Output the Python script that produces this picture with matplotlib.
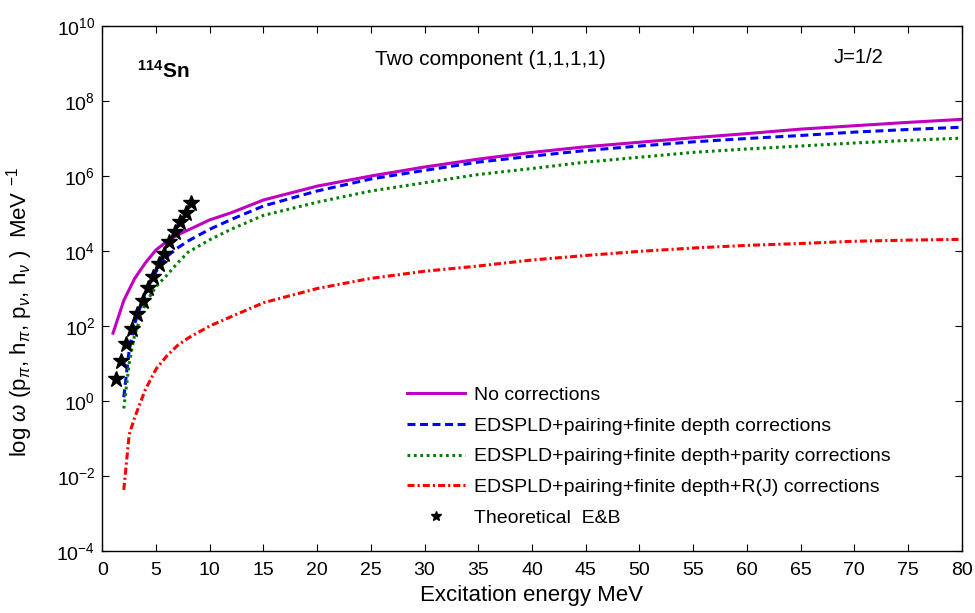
import matplotlib
matplotlib.use("Agg")
import matplotlib.pyplot as plt
import numpy as np

plt.rcParams['font.family'] = ['Liberation Sans', 'DejaVu Sans']
plt.rcParams['mathtext.fontset'] = 'custom'
plt.rcParams['mathtext.rm'] = 'Liberation Sans'
plt.rcParams['mathtext.it'] = 'Liberation Sans:italic'
plt.rcParams['mathtext.bf'] = 'Liberation Sans:bold'

# Excitation energies (MeV) and log10 of state densities
E_nocorr = [1, 2, 3, 4, 5, 6, 7, 8, 10, 12, 15, 20, 25, 30, 35, 40, 45, 50, 55, 60, 65, 70, 75, 80]
logw_nocorr = [1.81, 2.68, 3.26, 3.68, 4.03, 4.25, 4.43, 4.56, 4.83, 5.02, 5.36, 5.73, 6.00, 6.24,
               6.45, 6.63, 6.78, 6.90, 7.02, 7.13, 7.25, 7.34, 7.43, 7.51]

E_corr = [2, 2.5, 3, 4, 5, 6, 7, 8, 10, 12, 15, 20, 25, 30, 35, 40, 45, 50, 55, 60, 65, 70, 75, 80]
logw_depth = [0.10, 1.35, 2.05, 2.90, 3.45, 3.85, 4.08, 4.27, 4.58, 4.84, 5.20, 5.60, 5.92, 6.15,
              6.37, 6.53, 6.68, 6.80, 6.91, 7.00, 7.08, 7.17, 7.24, 7.30]
logw_parity = [-0.20, 1.00, 1.75, 2.60, 3.05, 3.35, 3.68, 3.97, 4.30, 4.58, 4.95, 5.30, 5.60, 5.82,
               6.04, 6.20, 6.37, 6.50, 6.63, 6.72, 6.80, 6.88, 6.95, 7.01]
logw_RJ = [-2.37, -0.90, -0.45, 0.30, 0.85, 1.20, 1.48, 1.68, 2.00, 2.25, 2.62, 3.00, 3.27, 3.46,
           3.60, 3.76, 3.88, 3.99, 4.08, 4.15, 4.20, 4.26, 4.29, 4.31]

E_EB = [1.25, 1.75, 2.25, 2.75, 3.25, 3.75, 4.25, 4.75, 5.25, 5.75, 6.25, 6.75, 7.25, 7.75, 8.25]
logw_EB = [0.58, 1.07, 1.52, 1.92, 2.32, 2.66, 3.02, 3.31, 3.65, 3.92, 4.23, 4.50, 4.77, 5.02, 5.29]

labels = ['No corrections',
          'EDSPLD+pairing+finite depth corrections',
          'EDSPLD+pairing+finite depth+parity corrections',
          'EDSPLD+pairing+finite depth+R(J) corrections',
          'Theoretical  E&B']

xticks = list(range(0, 81, 5))
yticks = [10.0 ** k for k in range(-4, 11, 2)]

fig = plt.figure(figsize=(9.75, 6.13), dpi=100)
ax = fig.add_axes([102.3 / 975, 62 / 613, 859.4 / 975, 525 / 613])

p = lambda v: 10.0 ** np.array(v)
ax.plot(E_nocorr, p(logw_nocorr), '-', color='#BF00BF', lw=2.2, label=labels[0])
ax.plot(E_corr, p(logw_depth), '--', color='#0000FF', lw=2.2, dashes=(2.6, 1.5), label=labels[1])
ax.plot(E_corr, p(logw_parity), ':', color='#008000', lw=2.2, dashes=(0.9, 1.2), label=labels[2])
ax.plot(E_corr, p(logw_RJ), '-.', color='#FF0000', lw=2.2, dashes=(2.3, 1.0, 0.7, 1.0), label=labels[3])
ax.plot(E_EB, p(logw_EB), '*', color='black', ms=12, ls='none', label=labels[4])

ax.set_yscale('log')
ax.set_xlim(0, 80)
ax.set_ylim(1e-4, 1e10)
ax.set_xticks(xticks)
ax.set_xticklabels([str(t) for t in xticks])
ax.set_yticks(yticks)
ax.yaxis.set_minor_locator(matplotlib.ticker.NullLocator())
ax.tick_params(direction='in', top=True, right=True, labelsize=14, length=5, width=0.8, pad=5)
ax.tick_params(axis='x', pad=8)
for s in ax.spines.values():
    s.set_linewidth(1.0)

ax.set_xlabel('Excitation energy MeV', fontsize=16, labelpad=4)
ax.set_ylabel(r'log $\omega$ (p$_\pi$, h$_\pi$, p$_\nu$, h$_\nu$ )  MeV $^{-1}$', fontsize=16)
ax.yaxis.set_label_coords(-0.078, 0.455)

ax.text(3.2, 10 ** 8.8, r'$^{\mathbf{114}}$Sn', fontsize=15, fontweight='bold', va='center', ha='left')
ax.text(36.1, 10 ** 9.1, 'Two component (1,1,1,1)', fontsize=15, va='center', ha='center')
ax.text(70.4, 10 ** 9.15, 'J=1/2', fontsize=14.5, va='center', ha='center')

ax.legend(loc='upper left', bbox_to_anchor=(0.3545, 0.314), frameon=False, fontsize=14,
          handlelength=3.0, handletextpad=0.43, labelspacing=0.68, markerscale=0.65,
          borderaxespad=0, borderpad=0)

fig.savefig('out.png', dpi=100)
